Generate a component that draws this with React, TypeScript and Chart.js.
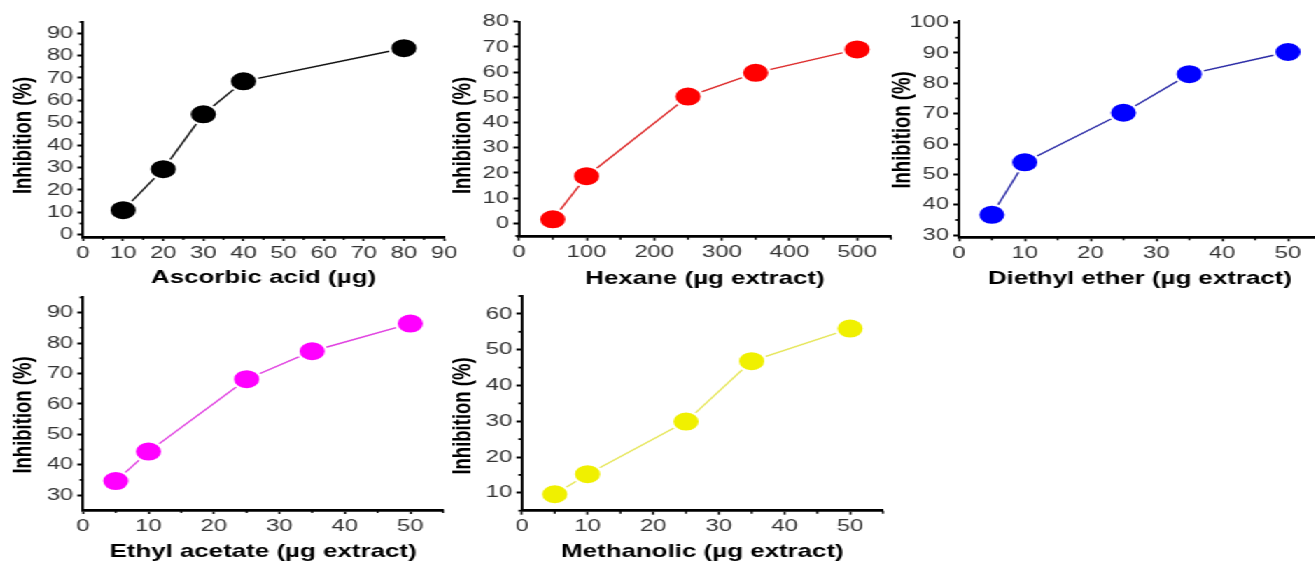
import React, { useEffect, useRef } from 'react';
import { Chart, registerables } from 'chart.js';

Chart.register(...registerables);

const STRETCH = 1.4;
const FONT = "'Liberation Sans', Arial, Helvetica, sans-serif";

// ---------- data ----------
const ascorbicDose = [10, 20, 30, 40, 80];
const ascorbicInhibition = [11, 29.3, 53.8, 68.5, 83.3];
const ascorbicXTicks = [0, 10, 20, 30, 40, 50, 60, 70, 80, 90];
const ascorbicYTicks = [0, 10, 20, 30, 40, 50, 60, 70, 80, 90];

const hexaneDose = [50, 100, 250, 350, 500];
const hexaneInhibition = [1.6, 18.7, 50.3, 59.7, 69];
const hexaneXTicks = [0, 100, 200, 300, 400, 500];
const hexaneYTicks = [0, 10, 20, 30, 40, 50, 60, 70, 80];

const diethylDose = [5, 10, 25, 35, 50];
const diethylInhibition = [36.7, 54, 70.3, 83, 90.3];
const diethylXTicks = [0, 10, 20, 30, 40, 50];
const diethylYTicks = [30, 40, 50, 60, 70, 80, 90, 100];

const ethylDose = [5, 10, 25, 35, 50];
const ethylInhibition = [34.6, 44.3, 68.1, 77.3, 86.4];
const ethylXTicks = [0, 10, 20, 30, 40, 50];
const ethylYTicks = [30, 40, 50, 60, 70, 80, 90];

const methanolDose = [5, 10, 25, 35, 50];
const methanolInhibition = [9.6, 15.2, 29.9, 46.8, 55.9];
const methanolXTicks = [0, 10, 20, 30, 40, 50];
const methanolYTicks = [10, 20, 30, 40, 50, 60];

const xTitles = [
  'Ascorbic acid (\u00b5g)',
  'Hexane (\u00b5g extract)',
  'Diethyl ether (\u00b5g extract)',
  'Ethyl acetate (\u00b5g extract)',
  'Methanolic (\u00b5g extract)',
];
const yTitle = 'Inhibition (%)';

type PanelCfg = {
  xTitle: string;
  dose: number[];
  inhibition: number[];
  xTicks: number[];
  yTicks: number[];
  xMinorStep: number;
  yMinorStep: number;
  xMin: number; xMax: number; yMin: number; yMax: number;
  color: string; lineColor: string;
  L: number; R: number; T: number; B: number;
  titleX: number; titleYc: number; titleY: number;
};

const PANELS: PanelCfg[] = [
  {
    xTitle: xTitles[0], dose: ascorbicDose, inhibition: ascorbicInhibition,
    xTicks: ascorbicXTicks, yTicks: ascorbicYTicks, xMinorStep: 5, yMinorStep: 5,
    xMin: 0, xMax: 90, yMin: -1, yMax: 95,
    color: '#000000', lineColor: '#111111',
    L: 83, R: 444, T: 22, B: 237, titleX: 23.3, titleYc: 135.5, titleY: 278,
  },
  {
    xTitle: xTitles[1], dose: hexaneDose, inhibition: hexaneInhibition,
    xTicks: hexaneXTicks, yTicks: hexaneYTicks, xMinorStep: 50, yMinorStep: 5,
    xMin: 0, xMax: 550, yMin: -5.3, yMax: 80,
    color: '#ff0000', lineColor: '#dd2a2a',
    L: 519, R: 891, T: 21.7, B: 236.7, titleX: 463, titleYc: 135.5, titleY: 279,
  },
  {
    xTitle: xTitles[2], dose: diethylDose, inhibition: diethylInhibition,
    xTicks: diethylXTicks, yTicks: diethylYTicks, xMinorStep: 5, yMinorStep: 5,
    xMin: 0, xMax: 55, yMin: 29.3, yMax: 100.6,
    color: '#0000ff', lineColor: '#2b2ba6',
    L: 959, R: 1321, T: 20.7, B: 237.3, titleX: 903, titleYc: 130, titleY: 279,
  },
  {
    xTitle: xTitles[3], dose: ethylDose, inhibition: ethylInhibition,
    xTicks: ethylXTicks, yTicks: ethylYTicks, xMinorStep: 5, yMinorStep: 5,
    xMin: 0, xMax: 55, yMin: 25.1, yMax: 95.3,
    color: '#ff00ff', lineColor: '#e040e0',
    L: 83, R: 443, T: 296.5, B: 510, titleX: 23.3, titleYc: 415, titleY: 552,
  },
  {
    xTitle: xTitles[4], dose: methanolDose, inhibition: methanolInhibition,
    xTicks: methanolXTicks, yTicks: methanolYTicks, xMinorStep: 5, yMinorStep: 5,
    xMin: 0, xMax: 55, yMin: 5, yMax: 65,
    color: '#f0f000', lineColor: '#e6e65a',
    L: 522, R: 883, T: 296, B: 510.7, titleX: 463, titleYc: 416, titleY: 552,
  },
];

function isMajor(v: number, ticks: number[]) {
  return ticks.some((t) => Math.abs(t - v) < 1e-6);
}

const minorTicksPlugin = {
  id: 'minorTicks',
  afterDraw(chart: any, _args: any, opts: any) {
    const { ctx } = chart;
    const xs = chart.scales.x;
    const ys = chart.scales.y;
    ctx.save();
    ctx.strokeStyle = '#000';
    ctx.lineWidth = 1.4;
    const xStart = Math.ceil(xs.min / opts.xMinorStep) * opts.xMinorStep;
    for (let v = xStart; v <= xs.max + 1e-9; v += opts.xMinorStep) {
      if (isMajor(v, opts.xTicks)) continue;
      const px = xs.getPixelForValue(v);
      ctx.beginPath();
      ctx.moveTo(px, xs.top);
      ctx.lineTo(px, xs.top + 3);
      ctx.stroke();
    }
    ctx.lineWidth = 1.8;
    const yStart = Math.ceil(ys.min / opts.yMinorStep) * opts.yMinorStep;
    for (let v = yStart; v <= ys.max + 1e-9; v += opts.yMinorStep) {
      if (isMajor(v, opts.yTicks)) continue;
      const py = ys.getPixelForValue(v);
      ctx.beginPath();
      ctx.moveTo(ys.right, py);
      ctx.lineTo(ys.right - 2.5, py);
      ctx.stroke();
    }
    // y-axis title (rotated), placed at its own position
    ctx.fillStyle = '#000';
    ctx.font = `bold 18.5px ${FONT}`;
    ctx.textAlign = 'center';
    ctx.textBaseline = 'middle';
    ctx.translate(opts.titleCx, opts.titleCy);
    ctx.rotate(-Math.PI / 2);
    ctx.fillText(opts.text, 0, 0);
    ctx.restore();
  },
};

function Panel({ cfg }: { cfg: PanelCfg }) {
  const ref = useRef<HTMLCanvasElement | null>(null);

  const Lu = cfg.L / STRETCH;
  const Ru = cfg.R / STRETCH;
  const tXu = cfg.titleX / STRETCH;
  const left = Math.floor(Lu - 55);
  const yW = Lu - left;
  const top = Math.floor(cfg.T - 12);
  const padTop = cfg.T - top;
  const bottom = Math.ceil(cfg.titleY + 13);
  const height = bottom - top;
  const xH = bottom - cfg.B;
  const width = Math.ceil(Ru + 24 - left);
  const padRight = left + width - Ru;

  useEffect(() => {
    const canvas = ref.current;
    if (!canvas) return;
    const points = cfg.dose.map((d, i) => ({ x: d, y: cfg.inhibition[i] }));
    const chart = new Chart(canvas, {
      type: 'line',
      data: {
        datasets: [
          {
            data: points,
            borderColor: cfg.lineColor,
            borderWidth: 1.4,
            tension: 0,
            fill: false,
            pointRadius: 10,
            pointHoverRadius: 10,
            pointBorderWidth: 2,
            pointBorderColor: '#ffffff',
            pointBackgroundColor: cfg.color,
            pointHoverBackgroundColor: cfg.color,
            pointHoverBorderColor: '#ffffff',
            pointHoverBorderWidth: 2,
          },
        ],
      },
      options: {
        responsive: false,
        animation: false,
        devicePixelRatio: 1,
        clip: false as any,
        events: [],
        layout: { padding: { top: padTop, right: padRight, bottom: 0, left: 0 } },
        plugins: {
          legend: { display: false },
          tooltip: { enabled: false },
          minorTicks: {
            xMinorStep: cfg.xMinorStep,
            yMinorStep: cfg.yMinorStep,
            xTicks: cfg.xTicks,
            yTicks: cfg.yTicks,
            text: yTitle,
            titleCx: tXu - left,
            titleCy: cfg.titleYc - top,
          },
        } as any,
        scales: {
          x: {
            type: 'linear',
            position: 'bottom',
            min: cfg.xMin,
            max: cfg.xMax,
            afterBuildTicks: (scale: any) => {
              scale.ticks = cfg.xTicks.map((v) => ({ value: v }));
            },
            afterFit: (scale: any) => {
              scale.height = xH;
            },
            grid: {
              display: true,
              drawOnChartArea: false,
              drawTicks: true,
              tickLength: 4,
              tickWidth: 1.5,
              tickColor: '#000',
            },
            border: { display: true, color: '#000', width: 2.7 },
            ticks: {
              color: '#333333',
              padding: 3.5,
              maxRotation: 0,
              autoSkip: false,
              font: { family: FONT, size: 17, lineHeight: 1 },
            },
            title: {
              display: true,
              text: cfg.xTitle,
              color: '#000',
              padding: { top: 0, bottom: 4 },
              font: { family: FONT, size: 18.5, weight: 'bold', lineHeight: 1 },
            },
          },
          y: {
            type: 'linear',
            position: 'left',
            min: cfg.yMin,
            max: cfg.yMax,
            afterBuildTicks: (scale: any) => {
              scale.ticks = cfg.yTicks.map((v) => ({ value: v }));
            },
            afterFit: (scale: any) => {
              scale.width = yW;
            },
            grid: {
              display: true,
              drawOnChartArea: false,
              drawTicks: true,
              tickLength: 4,
              tickWidth: 2,
              tickColor: '#000',
            },
            border: { display: true, color: '#000', width: 1.9 },
            ticks: {
              color: '#333333',
              padding: 3,
              autoSkip: false,
              font: { family: FONT, size: 17, lineHeight: 1 },
            },
            title: { display: false },
          },
        },
      } as any,
      plugins: [minorTicksPlugin as any],
    });
    return () => {
      chart.destroy();
    };
  }, []);

  return (
    <canvas
      ref={ref}
      width={width}
      height={height}
      style={{
        position: 'absolute',
        left,
        top,
        width: `${width}px`,
        height: `${height}px`,
        display: 'block',
      }}
    />
  );
}

export default function App() {
  return (
    <div
      style={{
        position: 'absolute',
        left: 0,
        top: 0,
        width: 1315,
        height: 563,
        overflow: 'hidden',
        background: '#ffffff',
      }}
    >
      <div
        style={{
          position: 'absolute',
          left: 0,
          top: 0,
          width: 1315 / STRETCH,
          height: 563,
          transform: `scaleX(${STRETCH})`,
          transformOrigin: '0 0',
        }}
      >
        {PANELS.map((p, i) => (
          <Panel key={i} cfg={p} />
        ))}
      </div>
    </div>
  );
}
